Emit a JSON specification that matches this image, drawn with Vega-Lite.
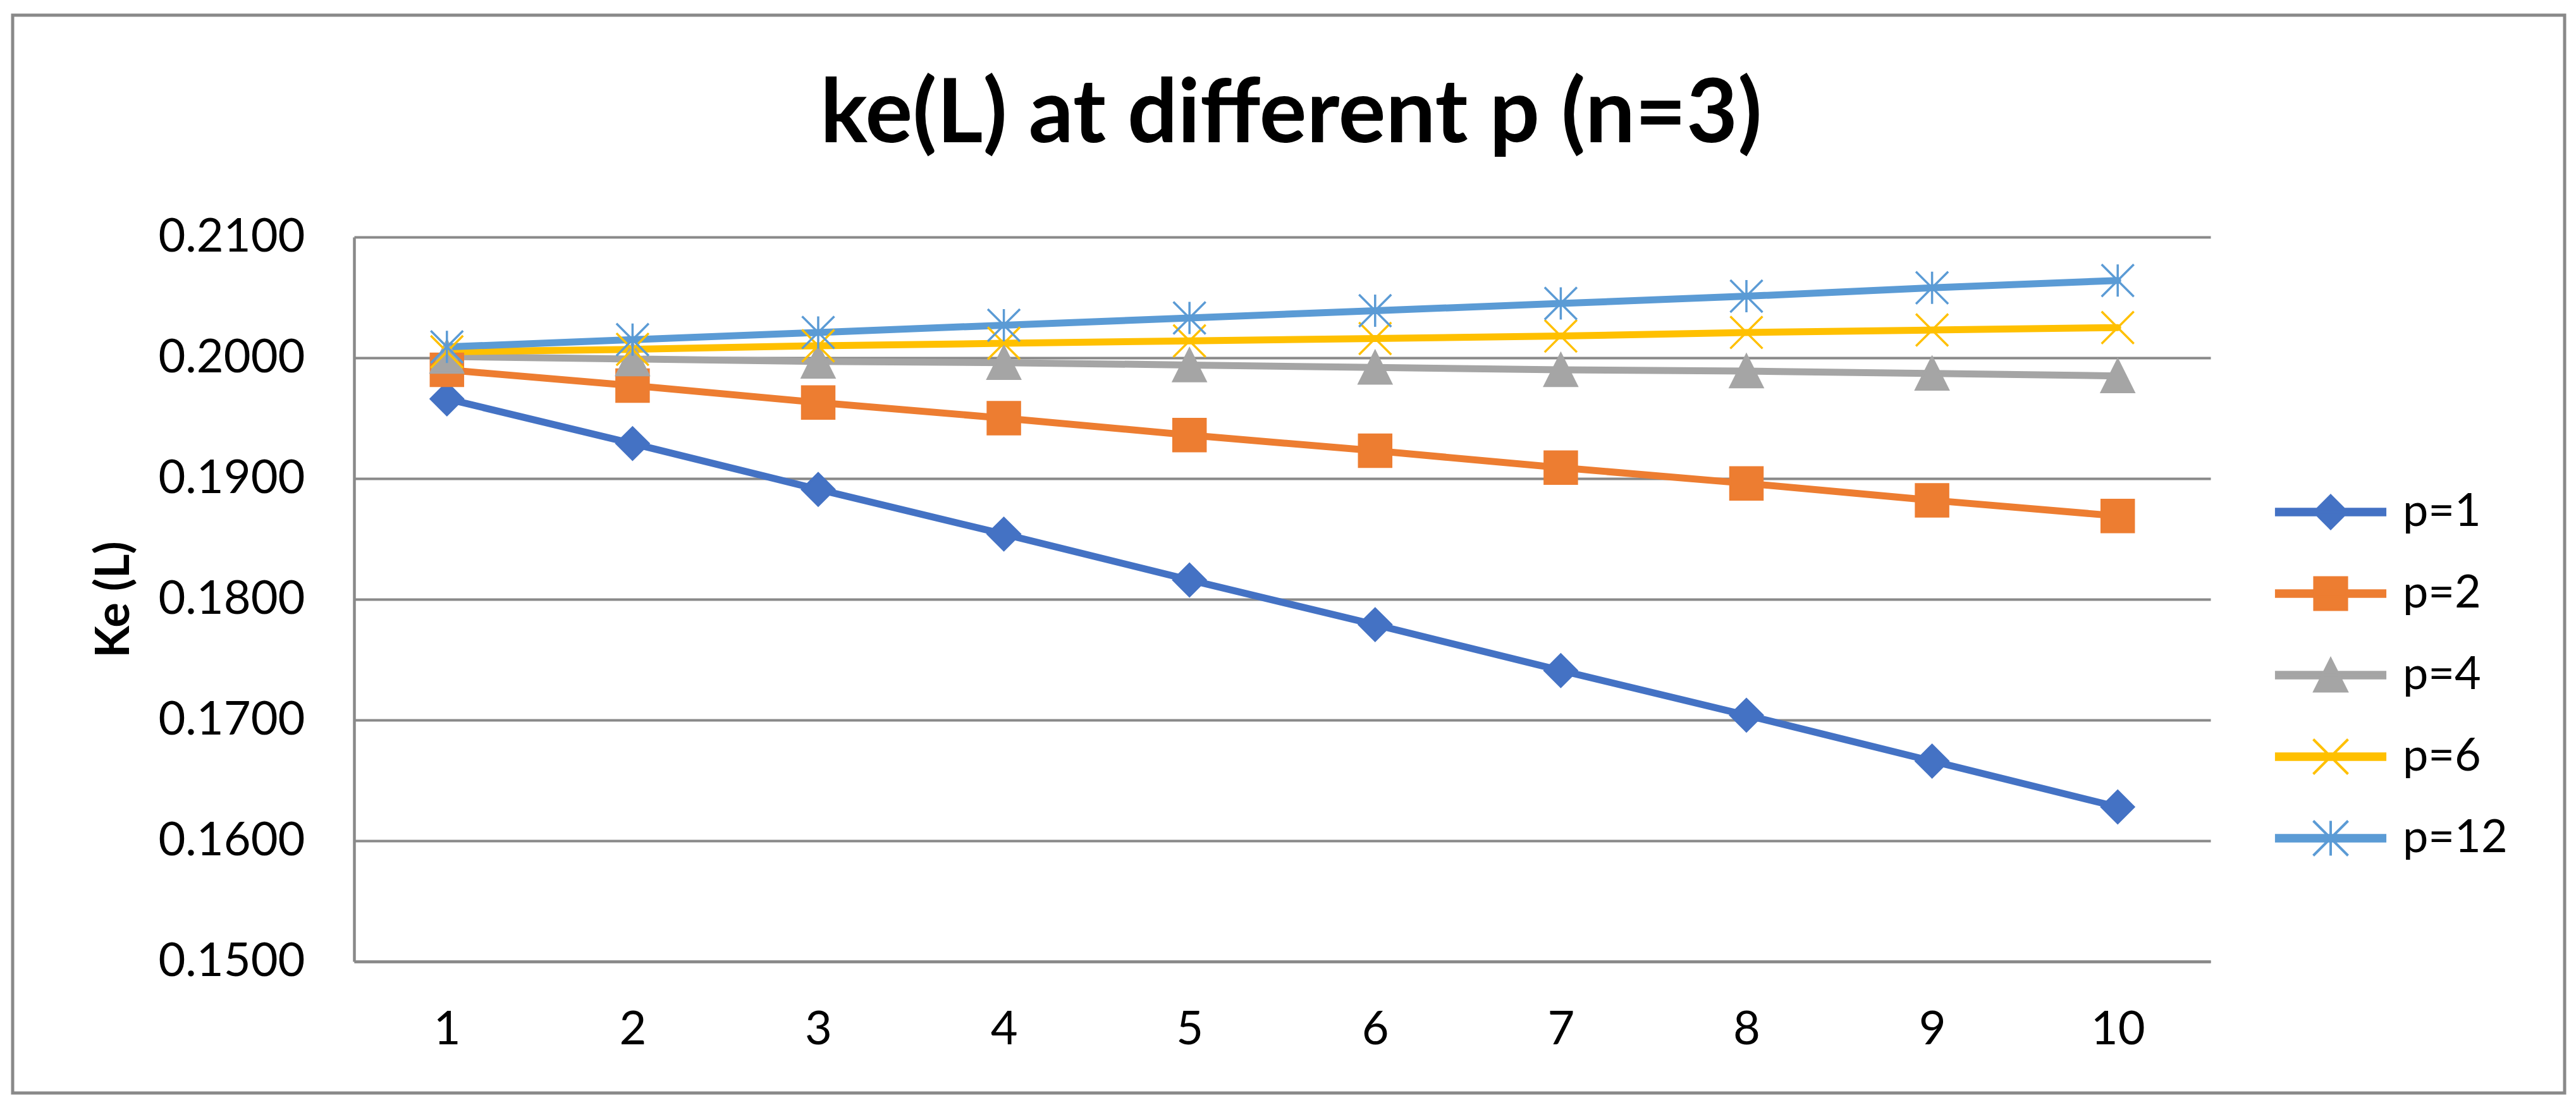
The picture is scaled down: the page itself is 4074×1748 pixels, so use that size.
{
  "$schema": "https://vega.github.io/schema/vega-lite/v6.json",
  "width": 4036,
  "height": 1705,
  "autosize": {"type": "none"},
  "padding": {"left": 20, "top": 24, "right": 18, "bottom": 19},
  "background": "white",
  "title": {
    "text": "ke(L) at different p (n=3)",
    "font": "Lato",
    "fontSize": 140,
    "fontWeight": "bold",
    "color": "#000000",
    "anchor": "middle",
    "frame": "group",
    "offset": -230,
    "dx": 4
  },
  "data": {
    "values": [
      {"L": 1, "series": "p=1", "ke": 0.1966},
      {"L": 2, "series": "p=1", "ke": 0.1929},
      {"L": 3, "series": "p=1", "ke": 0.1891},
      {"L": 4, "series": "p=1", "ke": 0.1854},
      {"L": 5, "series": "p=1", "ke": 0.1816},
      {"L": 6, "series": "p=1", "ke": 0.1779},
      {"L": 7, "series": "p=1", "ke": 0.1741},
      {"L": 8, "series": "p=1", "ke": 0.1704},
      {"L": 9, "series": "p=1", "ke": 0.1666},
      {"L": 10, "series": "p=1", "ke": 0.1628},
      {"L": 1, "series": "p=2", "ke": 0.1990},
      {"L": 2, "series": "p=2", "ke": 0.1977},
      {"L": 3, "series": "p=2", "ke": 0.1963},
      {"L": 4, "series": "p=2", "ke": 0.1950},
      {"L": 5, "series": "p=2", "ke": 0.1936},
      {"L": 6, "series": "p=2", "ke": 0.1923},
      {"L": 7, "series": "p=2", "ke": 0.1909},
      {"L": 8, "series": "p=2", "ke": 0.1896},
      {"L": 9, "series": "p=2", "ke": 0.1882},
      {"L": 10, "series": "p=2", "ke": 0.1869},
      {"L": 1, "series": "p=4", "ke": 0.2001},
      {"L": 2, "series": "p=4", "ke": 0.1999},
      {"L": 3, "series": "p=4", "ke": 0.1997},
      {"L": 4, "series": "p=4", "ke": 0.1996},
      {"L": 5, "series": "p=4", "ke": 0.1994},
      {"L": 6, "series": "p=4", "ke": 0.1992},
      {"L": 7, "series": "p=4", "ke": 0.1990},
      {"L": 8, "series": "p=4", "ke": 0.1989},
      {"L": 9, "series": "p=4", "ke": 0.1987},
      {"L": 10, "series": "p=4", "ke": 0.1985},
      {"L": 1, "series": "p=6", "ke": 0.2005},
      {"L": 2, "series": "p=6", "ke": 0.2007},
      {"L": 3, "series": "p=6", "ke": 0.2010},
      {"L": 4, "series": "p=6", "ke": 0.2012},
      {"L": 5, "series": "p=6", "ke": 0.2014},
      {"L": 6, "series": "p=6", "ke": 0.2016},
      {"L": 7, "series": "p=6", "ke": 0.2018},
      {"L": 8, "series": "p=6", "ke": 0.2021},
      {"L": 9, "series": "p=6", "ke": 0.2023},
      {"L": 10, "series": "p=6", "ke": 0.2025},
      {"L": 1, "series": "p=12", "ke": 0.2009},
      {"L": 2, "series": "p=12", "ke": 0.2015},
      {"L": 3, "series": "p=12", "ke": 0.2021},
      {"L": 4, "series": "p=12", "ke": 0.2027},
      {"L": 5, "series": "p=12", "ke": 0.2033},
      {"L": 6, "series": "p=12", "ke": 0.2039},
      {"L": 7, "series": "p=12", "ke": 0.2045},
      {"L": 8, "series": "p=12", "ke": 0.2051},
      {"L": 9, "series": "p=12", "ke": 0.2058},
      {"L": 10, "series": "p=12", "ke": 0.2064}
    ]
  },
  "encoding": {
    "x": {
      "field": "L",
      "type": "quantitative",
      "scale": {"domain": [0.5, 10.5], "range": [540, 3476], "nice": false, "zero": false},
      "axis": {
        "title": null,
        "values": [1, 2, 3, 4, 5, 6, 7, 8, 9, 10],
        "format": "d",
        "grid": false,
        "ticks": false,
        "offset": -208,
        "domainColor": "#898989",
        "domainWidth": 4.5,
        "labelFont": "Lato",
        "labelFontSize": 74,
        "labelColor": "#000000",
        "labelPadding": 72,
        "labelFlush": false,
        "labelOverlap": false,
        "labelLimit": 0
      }
    },
    "y": {
      "field": "ke",
      "type": "quantitative",
      "scale": {"domain": [0.15, 0.21], "range": [1497, 351], "nice": false, "zero": false},
      "title": "Ke (L)",
      "axis": {
        "values": [0.15, 0.16, 0.17, 0.18, 0.19, 0.2, 0.21],
        "format": ".4f",
        "grid": true,
        "gridColor": "#898989",
        "gridWidth": 4,
        "ticks": false,
        "offset": -540,
        "domainColor": "#898989",
        "domainWidth": 4.5,
        "labelFont": "Lato",
        "labelFontSize": 74,
        "labelColor": "#000000",
        "labelPadding": 78,
        "labelFlush": false,
        "labelOverlap": false,
        "labelLimit": 0,
        "titleFont": "Lato",
        "titleFontSize": 74,
        "titleFontWeight": "bold",
        "titleColor": "#000000",
        "titleBaseline": "alphabetic",
        "titleX": -357,
        "titleLimit": 0
      }
    }
  },
  "layer": [
    {
      "mark": {"type": "line", "strokeWidth": 11, "strokeJoin": "round", "strokeCap": "round"},
      "encoding": {
        "color": {
          "field": "series",
          "type": "nominal",
          "scale": {
            "domain": ["p=1", "p=2", "p=4", "p=6", "p=12"],
            "range": ["#4472C4", "#ED7D31", "#A5A5A5", "#FFC000", "#5B9BD5"]
          },
          "legend": {
            "title": null,
            "orient": "none",
            "legendX": 3630,
            "legendY": 750,
            "padding": 0,
            "symbolSize": 3025,
            "symbolStrokeWidth": 4,
            "symbolOpacity": 1,
            "labelFont": "Lato",
            "labelFontSize": 72,
            "labelColor": "#000000",
            "labelOffset": 78,
            "labelLimit": 0,
            "rowPadding": 57
          }
        }
      }
    },
    {
      "transform": [{"filter": "datum.series === 'p=1'"}],
      "mark": {"type": "point", "shape": "diamond", "filled": true, "fill": "#4472C4", "stroke": "#4472C4", "size": 2600, "strokeWidth": 3.5, "opacity": 1}
    },
    {
      "transform": [{"filter": "datum.series === 'p=2'"}],
      "mark": {"type": "point", "shape": "square", "filled": true, "fill": "#ED7D31", "stroke": "#ED7D31", "size": 2600, "strokeWidth": 3.5, "opacity": 1}
    },
    {
      "transform": [{"filter": "datum.series === 'p=4'"}],
      "mark": {"type": "point", "shape": "M0,-1L1,1L-1,1Z", "filled": true, "fill": "#A5A5A5", "stroke": "#A5A5A5", "size": 2600, "strokeWidth": 3.5, "opacity": 1}
    },
    {
      "transform": [{"filter": "datum.series === 'p=6'"}],
      "mark": {"type": "point", "shape": "M-1,-1L1,1M-1,1L1,-1", "filled": false, "stroke": "#FFC000", "size": 2600, "strokeWidth": 3.5, "opacity": 1}
    },
    {
      "transform": [{"filter": "datum.series === 'p=12'"}],
      "mark": {"type": "point", "shape": "M-1,-1L1,1M-1,1L1,-1M0,-1L0,1", "filled": false, "stroke": "#5B9BD5", "size": 2600, "strokeWidth": 3.5, "opacity": 1}
    },
    {
      "mark": {"type": "point", "filled": true, "opacity": 0, "size": 2600},
      "encoding": {
        "color": {"field": "series", "type": "nominal"},
        "shape": {
          "field": "series",
          "type": "nominal",
          "scale": {
            "domain": ["p=1", "p=2", "p=4", "p=6", "p=12"],
            "range": [
              "M-3.13,-0.17L3.13,-0.17L3.13,0.17L-3.13,0.17ZM0,-0.95L0.95,0L0,0.95L-0.95,0Z",
              "M-3.13,-0.17L3.13,-0.17L3.13,0.17L-3.13,0.17ZM-0.93,-0.93L0.93,-0.93L0.93,0.93L-0.93,0.93Z",
              "M-3.13,-0.17L3.13,-0.17L3.13,0.17L-3.13,0.17ZM0,-0.93L0.93,0.93L-0.93,0.93Z",
              "M-3.13,-0.17L3.13,-0.17L3.13,0.17L-3.13,0.17ZM-1,-1L1,1M-1,1L1,-1",
              "M-3.13,-0.17L3.13,-0.17L3.13,0.17L-3.13,0.17ZM-1,-1L1,1M-1,1L1,-1M0,-1L0,1"
            ]
          },
          "legend": {
            "title": null,
            "orient": "none",
            "legendX": 3630,
            "legendY": 750,
            "padding": 0,
            "symbolSize": 3025,
            "symbolStrokeWidth": 4,
            "symbolOpacity": 1,
            "labelFont": "Lato",
            "labelFontSize": 72,
            "labelColor": "#000000",
            "labelOffset": 78,
            "labelLimit": 0,
            "rowPadding": 57
          }
        }
      }
    }
  ],
  "config": {
    "font": "Lato",
    "view": {"stroke": "#898989", "strokeWidth": 5, "fill": "white"}
  }
}
